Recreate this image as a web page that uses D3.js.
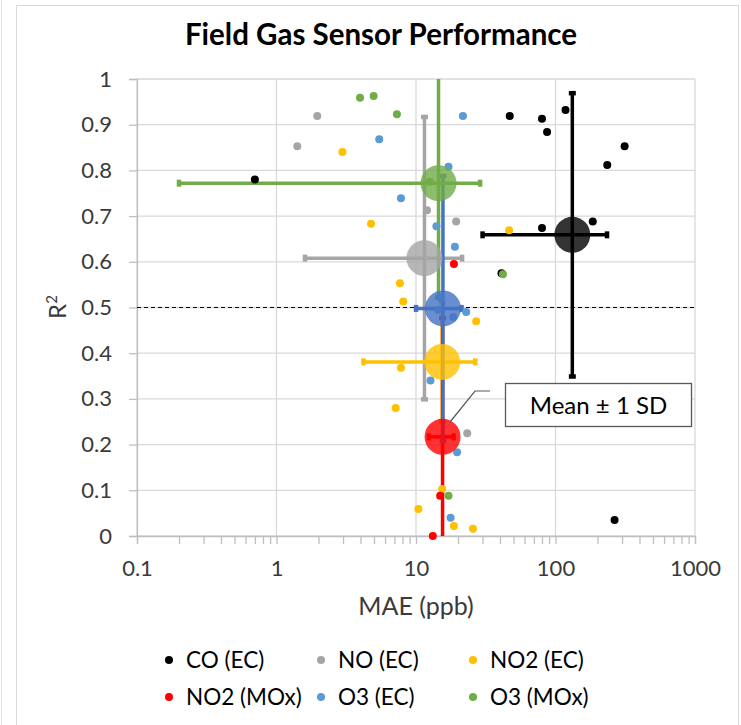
<!DOCTYPE html>
<html lang="en">
  <head>
    <meta charset="utf-8">
    <title>Field Gas Sensor Performance</title>
    <script src="https://d3js.org/d3.v7.min.js"></script>
    <style type="text/css">
      html, body {
        margin: 0; padding: 0;
        background: #fff;
        font-family: Lato, "Open Sans", sans-serif;
      }
    </style>
  </head>
  <body>
    <svg width="741" height="725"></svg>
    <script type="text/javascript">

      // points: [MAE (ppb), R2]
      var coEC    = [[0.70,0.78],[47,0.919],[80,0.913],[87,0.884],[118,0.932],[313,0.853],
                     [235,0.812],[80,0.674],[185,0.688],[41,0.575],[265,0.035]];
      var noEC    = [[1.96,0.919],[1.41,0.853],[12.0,0.713],[19.4,0.688],[23.3,0.225]];
      var no2EC   = [[2.97,0.84],[4.76,0.683],[46.5,0.669],[7.67,0.553],[8.1,0.513],[27,0.47],
                     [7.8,0.368],[7.15,0.28],[10.4,0.059],[18.7,0.022],[25.6,0.016],[15.4,0.103]];
      var no2MOx  = [[18.7,0.595],[14.9,0.088],[13.2,0.0]];
      var o3EC    = [[21.7,0.919],[5.45,0.868],[17.1,0.808],[7.8,0.739],[14.0,0.678],[19.0,0.633],
                     [22.9,0.49],[12.7,0.34],[19.7,0.183],[17.7,0.04],[15.1,0.521],[14.4,0.495],[18.5,0.479]];
      var o3MOx   = [[3.97,0.959],[4.97,0.963],[7.3,0.923],[42,0.573],[17.1,0.088],[12.6,0.775]];

      var seriesNames = ["CO (EC)", "NO (EC)", "NO2 (EC)", "NO2 (MOx)", "O3 (EC)", "O3 (MOx)"];
      var seriesPoints = [coEC, noEC, no2EC, no2MOx, o3EC, o3MOx];

      // mean +/- 1 SD for each series
      var meanMae = [132, 11.5, 15.4, 15.5, 15.6, 14.5];
      var meanR2  = [0.659, 0.608, 0.381, 0.217, 0.498, 0.772];
      var sdMae   = [102, 9.9, 11.2, 3.1, 5.6, 14.3];
      var sdR2    = [0.31, 0.309, 0.13, 0.26, 0.29, 0.25];

      var xTicks = [0.1, 1, 10, 100, 1000];
      var yTicks = [0, 0.1, 0.2, 0.3, 0.4, 0.5, 0.6, 0.7, 0.8, 0.9, 1];

      var pointColors = ["#000000", "#A5A5A5", "#FFC000", "#FF0000", "#5B9BD5", "#70AD47"];
      var meanColors  = ["#000000", "#A5A5A5", "#FFC000", "#FF0000", "#4472C4", "#70AD47"];

      var svg = d3.select("svg");
      var txt = "#3a3a3a";

      // chart frame
      svg.append("rect")
         .attr("x", 16.5).attr("y", 5.5)
         .attr("width", 722).attr("height", 740)
         .attr("fill", "#fff").attr("stroke", "#d9d9d9");
      svg.append("line")
         .attr("x1", 1.5).attr("x2", 1.5).attr("y1", 0).attr("y2", 725)
         .attr("stroke", "#e3e3e3");

      var x = d3.scaleLog().domain([0.1, 1000]).range([137, 695]);
      var y = d3.scaleLinear().domain([0, 1]).range([536, 79]);

      svg.append("clipPath").attr("id", "plot")
         .append("rect").attr("x", 137).attr("y", 79).attr("width", 558).attr("height", 457);

      // gridlines
      var grid = svg.append("g").attr("stroke", "#d9d9d9").attr("stroke-width", 1.3);
      grid.selectAll(".h").data(yTicks).enter().append("line")
          .attr("x1", 137).attr("x2", 695)
          .attr("y1", function(d){ return y(d); }).attr("y2", function(d){ return y(d); });
      grid.selectAll(".v").data(xTicks).enter().append("line")
          .attr("y1", 79).attr("y2", 536)
          .attr("x1", function(d){ return x(d); }).attr("x2", function(d){ return x(d); });

      // axes
      var yAxis = svg.append("g")
         .attr("transform", "translate(137,0)")
         .call(d3.axisLeft(y).tickValues(yTicks).tickSize(8).tickPadding(17)
                 .tickFormat(d3.format(".1~f")));
      var xAxis = svg.append("g")
         .attr("transform", "translate(0,536)")
         .call(d3.axisBottom(x).tickValues(x.ticks()).tickSize(8).tickPadding(16)
                 .tickFormat(function(d){ return xTicks.indexOf(+d.toPrecision(3)) >= 0 ? d3.format("~g")(d) : ""; }));
      [xAxis, yAxis].forEach(function(a){
        a.select(".domain").attr("stroke", "#bfbfbf").attr("stroke-width", 1.3);
        a.selectAll(".tick line").attr("stroke", "#bfbfbf").attr("stroke-width", 1.3);
        a.selectAll("text").attr("fill", txt).style("font-family", "Lato, sans-serif").style("font-size", "22px");
      });

      // R2 = 0.5 reference
      svg.append("line")
         .attr("x1", 137).attr("x2", 695)
         .attr("y1", y(0.5)).attr("y2", y(0.5))
         .attr("stroke", "#000").attr("stroke-width", 1.2)
         .attr("stroke-dasharray", "4,3");

      // layers: error bars, then sensors, then the mean markers
      var barG = svg.append("g").attr("clip-path", "url(#plot)");
      var ptsG = svg.append("g");
      var meanG = svg.append("g");

      seriesNames.forEach(function(n, i){
        var b = barG.append("g").attr("stroke", meanColors[i]).attr("stroke-width", 3.5);
        var cx = x(meanMae[i]), cy = y(meanR2[i]);
        var x0 = x(meanMae[i] - sdMae[i]), x1 = x(meanMae[i] + sdMae[i]);
        var y0 = y(meanR2[i] - sdR2[i]), y1 = y(meanR2[i] + sdR2[i]);
        b.append("line").attr("x1", x0).attr("x2", x1).attr("y1", cy).attr("y2", cy);
        b.append("line").attr("x1", cx).attr("x2", cx).attr("y1", y0).attr("y2", y1);
        [x0, x1].forEach(function(v){
          b.append("line").attr("x1", v).attr("x2", v).attr("y1", cy - 3.5).attr("y2", cy + 3.5).attr("stroke-width", 4.5);
        });
        [y0, y1].forEach(function(v){
          b.append("line").attr("y1", v).attr("y2", v).attr("x1", cx - 3.5).attr("x2", cx + 3.5).attr("stroke-width", 4.5);
        });
      });

      seriesPoints.forEach(function(s, i){
        ptsG.append("g").selectAll("circle")
           .data(s).enter().append("circle")
           .attr("cx", function(d){ return x(d[0]); })
           .attr("cy", function(d){ return y(d[1]); })
           .attr("r", 4)
           .attr("fill", pointColors[i]);
      });

      meanG.selectAll("circle")
         .data(seriesNames).enter().append("circle")
         .attr("cx", function(d, i){ return x(meanMae[i]); })
         .attr("cy", function(d, i){ return y(meanR2[i]); })
         .attr("r", 18)
         .attr("fill", function(d, i){ return meanColors[i]; })
         .attr("fill-opacity", 0.8);

      // callout
      svg.append("polyline")
         .attr("points", "490,391 475,391 450,422")
         .attr("fill", "none").attr("stroke", "#595959").attr("stroke-width", 1.2);
      svg.append("rect")
         .attr("x", 505.5).attr("y", 383.5).attr("width", 186).attr("height", 43)
         .attr("fill", "#fff").attr("stroke", "#595959").attr("stroke-width", 1.3);
      svg.append("text")
         .attr("x", 598.5).attr("y", 414)
         .attr("text-anchor", "middle")
         .style("font-size", "24px").attr("fill", "#000")
         .text("Mean \u00b1 1 SD");

      // title
      svg.append("text")
         .attr("x", 381).attr("y", 45)
         .attr("text-anchor", "middle")
         .style("font-size", "29.5px").style("font-weight", "bold")
         .attr("fill", "#000")
         .text("Field Gas Sensor Performance");

      // axis titles
      svg.append("text")
         .attr("x", 416).attr("y", 615)
         .attr("text-anchor", "middle")
         .style("font-size", "25px").attr("fill", txt)
         .text("MAE (ppb)");
      var yt = svg.append("text")
         .attr("transform", "translate(66,307) rotate(-90)")
         .attr("text-anchor", "middle")
         .style("font-size", "24px").attr("fill", txt);
      yt.append("tspan").text("R");
      yt.append("tspan").attr("dy", -9).style("font-size", "15px").text("2");

      // legend
      var lg = svg.append("g").selectAll("g")
         .data(seriesNames).enter().append("g")
         .attr("transform", function(d, i){
           return "translate(" + (169 + (i % 3) * 152) + "," + (660 + Math.floor(i / 3) * 37) + ")";
         });
      lg.append("circle").attr("r", 4).attr("fill", function(d, i){ return pointColors[i]; });
      lg.append("text")
        .attr("x", 17).attr("dy", "0.35em")
        .style("font-size", "22.5px").attr("fill", "#000")
        .text(function(d){ return d; });

    </script>
  </body>
</html>
